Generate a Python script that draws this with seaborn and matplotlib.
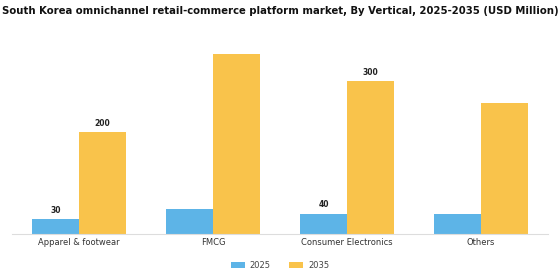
import matplotlib
matplotlib.use("Agg")
import matplotlib.pyplot as plt
import seaborn as sns
import pandas as pd

categories = ["Apparel & footwear", "FMCG", "Consumer Electronics", "Others"]
years = ["2025", "2035"]
values_2025 = [30, 50, 40, 40]
values_2035 = [200, 352, 300, 256]
labels_2025 = ["30", "", "40", ""]
labels_2035 = ["200", "", "300", ""]

df = pd.DataFrame({
    "Vertical": categories * 2,
    "Year": [years[0]] * 4 + [years[1]] * 4,
    "Value": values_2025 + values_2035,
})

sns.set_theme(style="white")
plt.rcParams['font.family'] = ['DejaVu Sans']

fig = plt.figure(figsize=(5.6, 2.8), dpi=100)
ax = fig.add_axes([12 / 560, 0.164, 536 / 560, 0.693])
palette = {"2025": "#5DB4E7", "2035": "#F9C34B"}
sns.barplot(data=df, x="Vertical", y="Value", hue="Year", palette=palette,
            width=0.7, ax=ax, saturation=1, linewidth=0)

ax.set_ylim(0, 380)
ax.set_xlim(-0.5, 3.5)
ax.set_xlabel("")
ax.set_ylabel("")
ax.set_yticks([])
for s in ["top", "right", "left"]:
    ax.spines[s].set_visible(False)
ax.spines["bottom"].set_color("#DDDDDD")
ax.spines["bottom"].set_linewidth(0.8)
ax.tick_params(axis="x", labelsize=6, colors="#333333", length=0, pad=3)

for cont, labs in zip(ax.containers, [labels_2025, labels_2035]):
    ax.bar_label(cont, labels=labs, fontsize=5.5, fontweight="bold",
                 color="#222222", padding=3)

fig.suptitle("South Korea omnichannel retail-commerce platform market, By Vertical, 2025-2035 (USD Million)",
             fontsize=7.3, fontweight="bold", x=0.5, y=0.98, color="#111111")

leg = ax.legend(loc="upper center", bbox_to_anchor=(0.5, -0.1), ncol=2,
                frameon=False, fontsize=6, handlelength=1.7, handleheight=0.6,
                columnspacing=2.2, handletextpad=0.6)
for t in leg.get_texts():
    t.set_color("#444444")

fig.savefig("out.png", dpi=100)
